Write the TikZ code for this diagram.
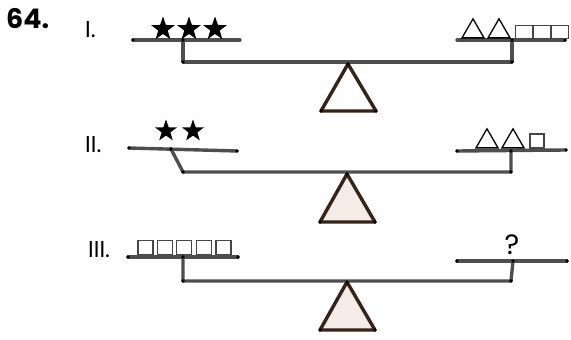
\documentclass[tikz,border=0pt]{standalone}
\usepackage{fontspec}
\setmainfont{Poppins}
\usetikzlibrary{shapes.geometric}
\definecolor{barcol}{RGB}{78,78,78}
\definecolor{fulcol}{RGB}{55,34,24}
\definecolor{fulfill}{RGB}{245,236,231}
\definecolor{sqcol}{RGB}{70,70,70}
\tikzset{
  bar/.style={draw=barcol, line width=3.4pt, line cap=round, line join=round},
  fulcrum/.style={draw=fulcol, line width=3.4pt, line join=round},
  dotmark/.style={fill=black},
  starw/.style={star, star points=5, star point ratio=2.5, fill=black, inner sep=0pt, minimum size=#1},
  triw/.style={regular polygon, regular polygon sides=3, draw=black, line width=1.3pt, inner sep=0pt, minimum size=25.4pt},
  sqw/.style={rectangle, draw=sqcol, line width=1.1pt, inner sep=0pt, minimum width=#1, minimum height=13pt},
  lab/.style={inner sep=0pt, anchor=base west, font=\fontsize{23}{23}\selectfont},
}
\begin{document}
\begin{tikzpicture}[x=1pt,y=-1pt]
\useasboundingbox (0,0) rectangle (571,340);
% title and labels
\node[inner sep=0pt, anchor=base west, font=\fontsize{27}{27}\selectfont\bfseries] (num) at (6,28) {64.};
\node[lab] (l1) at (85,37) {I.};
\node[lab] (l2) at (85,152) {II.};
\node[lab] (l3) at (88,257) {III.};

% ===== Scale I =====
\coordinate (a1) at (133,40); \coordinate (a2) at (240,40);
\coordinate (a3) at (183,40); \coordinate (a4) at (183,62);
\coordinate (a5) at (512,62); \coordinate (a6) at (512,40);
\coordinate (a7) at (457,40); \coordinate (a8) at (565,40);
\coordinate (f1a) at (348,64); \coordinate (f1b) at (321,111); \coordinate (f1c) at (376,111);
\draw[fulcrum, fill=white] (f1a) -- (f1b) -- (f1c) -- cycle;
\draw[bar] (a1) -- (a2);
\draw[bar] (a3) -- (a4) -- (a5) -- (a6);
\draw[bar] (a7) -- (a8);
\foreach \p in {a1,a3,a4,a5,a6,a8,f1a,f1b,f1c} \fill[dotmark] (\p) circle (1.8);
\node[starw=25pt] (s11) at (163,29) {};
\node[starw=25pt] (s12) at (189,29) {};
\node[starw=25pt] (s13) at (215,29) {};
\node[triw] (t11) at (473,31.5) {};
\node[triw] (t12) at (499,31.5) {};
\node[sqw=17pt] (q11) at (524,32) {};
\node[sqw=17pt] (q12) at (542,32) {};
\node[sqw=17pt] (q13) at (560,32) {};

% ===== Scale II =====
\coordinate (b1) at (129,148); \coordinate (b2) at (237,151);
\coordinate (b3) at (171,149); \coordinate (b4) at (183,172);
\coordinate (b5) at (511,172); \coordinate (b6) at (511,151);
\coordinate (b7) at (457,151); \coordinate (b8) at (566,150);
\coordinate (f2a) at (347,174); \coordinate (f2b) at (320,222); \coordinate (f2c) at (375,222);
\draw[fulcrum, fill=fulfill] (f2a) -- (f2b) -- (f2c) -- cycle;
\draw[bar] (b1) -- (b2);
\draw[bar] (b3) -- (b4) -- (b5) -- (b6);
\draw[bar] (b7) -- (b8);
\foreach \p in {b1,b2,b3,b4,b5,b6,b7,b8,f2a,f2b,f2c} \fill[dotmark] (\p) circle (1.8);
\node[starw=23pt] (s21) at (166,131) {};
\node[starw=23pt] (s22) at (193,131) {};
\node[triw] (t21) at (487,141.5) {};
\node[triw] (t22) at (513,141.5) {};
\node[sqw=14pt, minimum height=14pt] (q21) at (537,141) {};

% ===== Scale III =====
\coordinate (c1) at (128,257); \coordinate (c2) at (238,257);
\coordinate (c3) at (183,257); \coordinate (c4) at (183,281);
\coordinate (c5) at (511,281); \coordinate (c6) at (513,261);
\coordinate (c7) at (457,261); \coordinate (c8) at (567,261);
\coordinate (f3a) at (347,282); \coordinate (f3b) at (320,330); \coordinate (f3c) at (375,330);
\draw[fulcrum, fill=fulfill] (f3a) -- (f3b) -- (f3c) -- cycle;
\draw[bar] (c1) -- (c2);
\draw[bar] (c3) -- (c4) -- (c5) -- (c6);
\draw[bar] (c7) -- (c8);
\foreach \p in {c1,c2,c3,c4,c5,c6,c7,c8,f3a,f3b,f3c} \fill[dotmark] (\p) circle (1.8);
\node[sqw=15pt, minimum height=14pt] (q31) at (145.5,247.5) {};
\node[sqw=15pt, minimum height=14pt] (q32) at (164.8,247.5) {};
\node[sqw=15pt, minimum height=14pt] (q33) at (184.2,247.5) {};
\node[sqw=15pt, minimum height=14pt] (q34) at (203.8,247.5) {};
\node[sqw=15pt, minimum height=14pt] (q35) at (223.5,247.5) {};
\node[inner sep=0pt, anchor=base, font=\fontsize{28}{28}\selectfont] (qm) at (512,254) {?};
\end{tikzpicture}
\end{document}
